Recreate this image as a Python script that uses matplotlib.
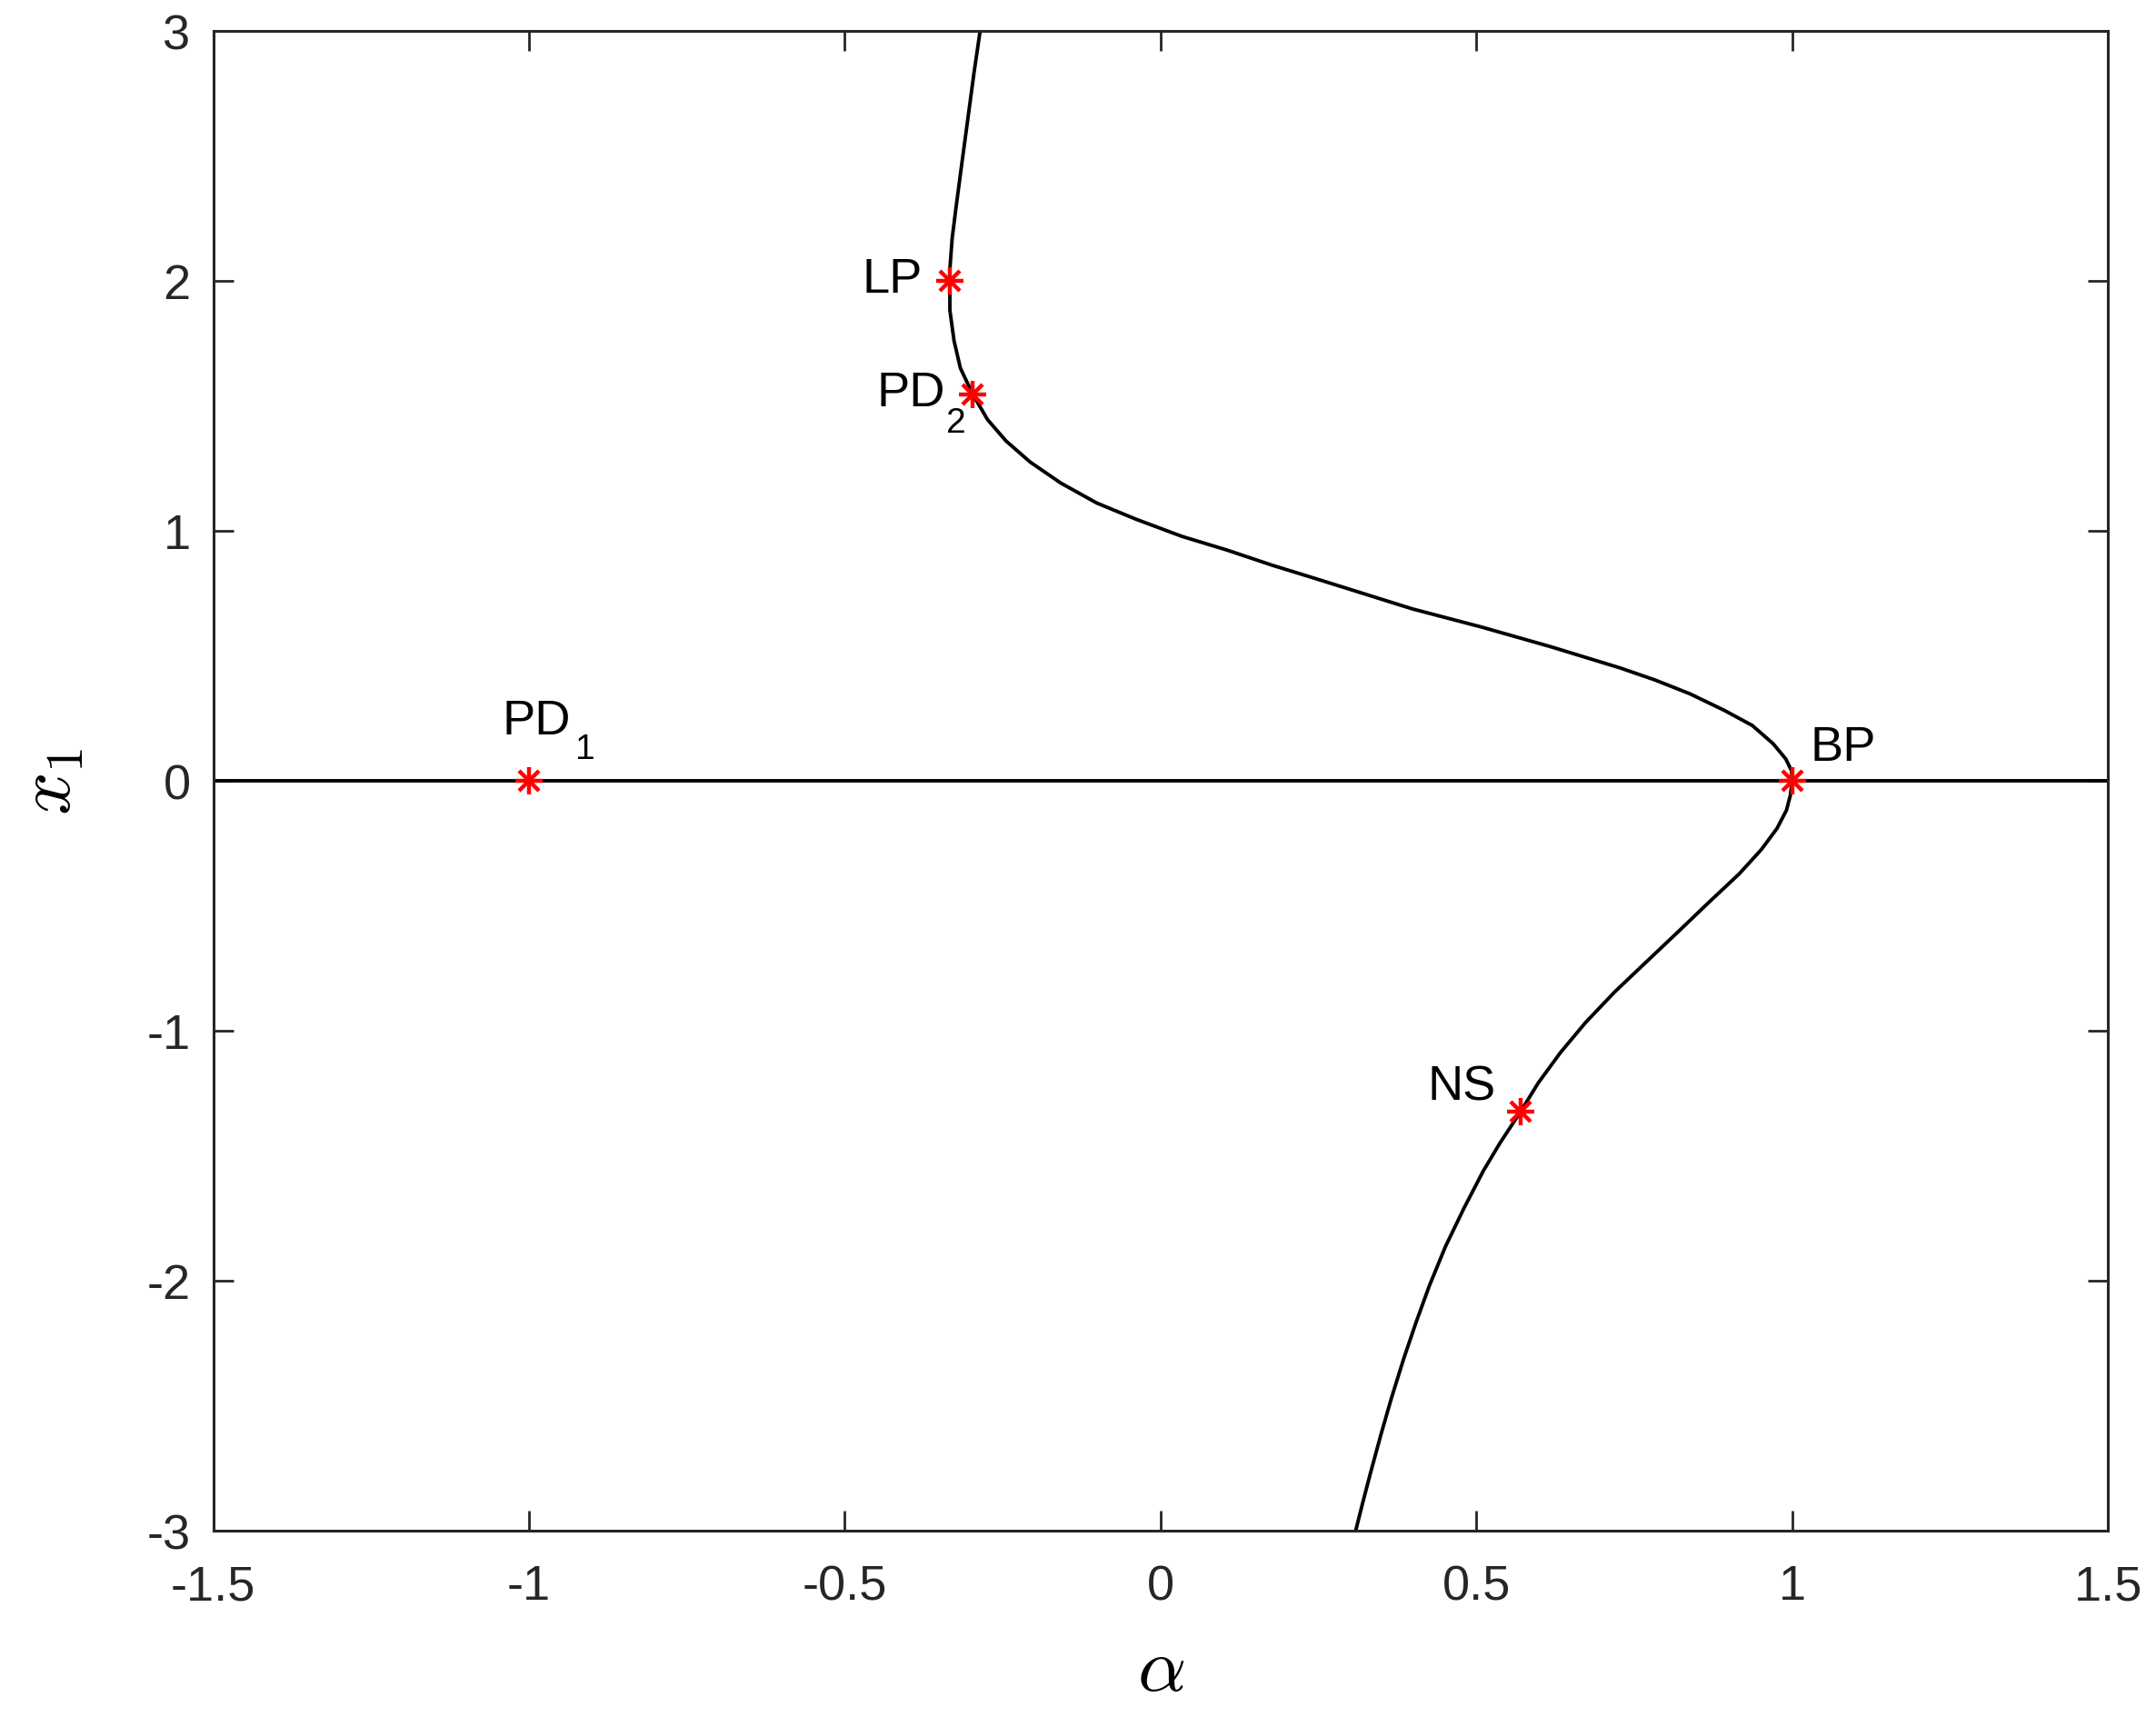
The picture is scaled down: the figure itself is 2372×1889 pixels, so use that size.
import matplotlib
matplotlib.use("Agg")
import matplotlib.pyplot as plt

plt.rcParams['font.family'] = ['Liberation Sans', 'DejaVu Sans']
plt.rcParams['mathtext.fontset'] = 'cm'

# equilibrium branch (alpha, x1), from top to bottom
alpha_branch = [-0.2857, -0.2952, -0.3048, -0.3145, -0.3240, -0.3300, -0.3336, -0.3340,
                -0.3336, -0.3336, -0.327, -0.317, -0.2976, -0.274, -0.245, -0.2065,
                -0.158, -0.101, -0.0386, 0.0334, 0.105, 0.177, 0.240, 0.297,
                0.398, 0.508, 0.618, 0.728, 0.783, 0.838, 0.893, 0.937,
                0.970, 0.990, 0.999, 1.000, 0.997, 0.991, 0.976, 0.951,
                0.916, 0.870, 0.820, 0.769, 0.719, 0.673, 0.633, 0.598,
                0.570, 0.537, 0.511, 0.480, 0.451, 0.4255, 0.4045, 0.385,
                0.3655, 0.349, 0.332, 0.3195, 0.309]
x1_branch = [3.000, 2.836, 2.655, 2.473, 2.291, 2.170, 2.048, 2.000,
             1.939, 1.882, 1.760, 1.651, 1.547, 1.445, 1.360, 1.275,
             1.191, 1.111, 1.046, 0.978, 0.923, 0.862, 0.813, 0.768,
             0.688, 0.615, 0.536, 0.451, 0.403, 0.348, 0.281, 0.221,
             0.148, 0.087, 0.040, 0.000, -0.060, -0.118, -0.191, -0.276,
             -0.373, -0.482, -0.603, -0.725, -0.845, -0.967, -1.088, -1.209,
             -1.324, -1.451, -1.561, -1.712, -1.864, -2.021, -2.167, -2.312,
             -2.470, -2.615, -2.773, -2.894, -3.000]

# trivial branch x1 = 0
alpha_trivial = [-1.5, 1.5]
x1_trivial = [0, 0]

# special points
pt_alpha = [-1.0, -0.334, -0.2976, 1.0, 0.570]
pt_x1 = [0.0, 2.0, 1.545, 0.0, -1.324]

# labels: main text and subscript
lbl_text = ['PD', 'LP', 'PD', 'BP', 'NS']
lbl_alpha = [-1.042, -0.472, -0.449, 1.029, 0.423]
lbl_x1 = [0.189, 1.956, 1.500, 0.083, -1.275]
sub_text = ['1', '2']
sub_alpha = [-0.926, -0.340]
sub_x1 = [0.091, 1.398]

fig = plt.figure(figsize=(11.86, 9.45), dpi=200)
ax = fig.add_axes((0.0989, 0.1085, 0.8788, 0.873))

ax.plot(alpha_trivial, x1_trivial, color='k', lw=1.4)
ax.plot(alpha_branch, x1_branch, color='k', lw=1.4)
# matlab-like asterisk = plus + cross
ax.plot(pt_alpha, pt_x1, ls='none', marker='+', color='red', ms=11, mew=1.6)
ax.plot(pt_alpha, pt_x1, ls='none', marker='x', color='red', ms=8, mew=1.6)

for t, xa, ya in zip(lbl_text, lbl_alpha, lbl_x1):
    ax.text(xa, ya, t, fontsize=19.5, va='baseline', ha='left')
for t, xa, ya in zip(sub_text, sub_alpha, sub_x1):
    ax.text(xa, ya, t, fontsize=14, va='baseline', ha='left')

ax.set_xlim(-1.5, 1.5)
ax.set_ylim(-3, 3)
ax.set_xticks([-1.5, -1, -0.5, 0, 0.5, 1, 1.5])
ax.set_xticklabels(['-1.5', '-1', '-0.5', '0', '0.5', '1', '1.5'])
ax.set_yticks([-3, -2, -1, 0, 1, 2, 3])
ax.set_yticklabels(['-3', '-2', '-1', '0', '1', '2', '3'])
ax.tick_params(direction='in', length=8, width=1.0, labelsize=19.5, color='#262626',
               labelcolor='#262626', top=True, right=True)
ax.tick_params(axis='x', pad=13)
ax.tick_params(axis='y', pad=9)
for s in ax.spines.values():
    s.set_linewidth(1.1)
    s.set_color('#262626')

ax.set_xlabel(r'$\alpha$', fontsize=30, labelpad=10)
ax.set_ylabel(r'$x_1$', fontsize=30, labelpad=24)

fig.savefig('out.png', dpi=200)
